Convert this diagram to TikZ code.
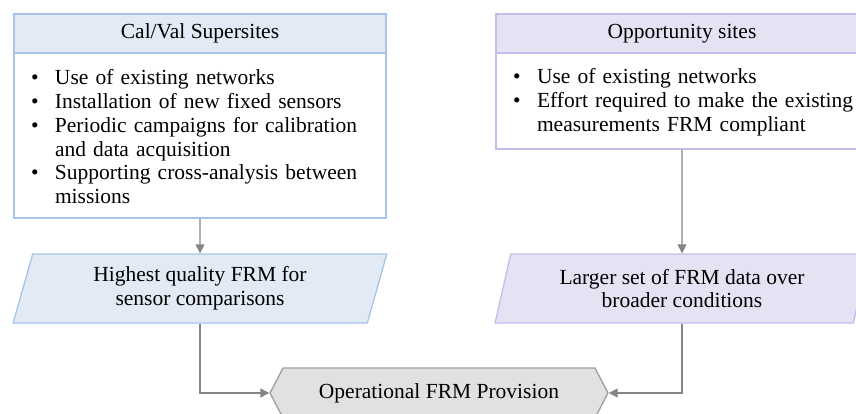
\documentclass[tikz,border=0pt]{standalone}
\usepackage{fontspec}
\setmainfont{Liberation Serif}
\usetikzlibrary{shapes.geometric,shapes.symbols,arrows.meta}
\definecolor{blueline}{HTML}{A8C4EA}
\definecolor{bluefill}{HTML}{E2EAF5}
\definecolor{lilacline}{HTML}{C4BDEA}
\definecolor{lilacfill}{HTML}{E5E3F3}
\definecolor{hexfill}{HTML}{E1E1E1}
\definecolor{hexline}{HTML}{9E9E9E}
\definecolor{arrowgray}{HTML}{858585}
\newcommand{\bitem}[1]{\par\hangindent=24pt\hangafter=1\noindent\makebox[24pt][l]{\textbullet}#1\par}
\newcommand{\liftup}{\par\kern6pt\hrule height0pt width0pt}

\begin{document}
\begin{tikzpicture}[x=1pt,y=-1pt,
    font=\fontsize{21.5}{23.7}\selectfont,
    headbox/.style={draw=#1line,fill=#1fill,line width=1.3pt,
      minimum width=372pt,minimum height=39pt,inner sep=0pt},
    bodybox/.style={draw=#1line,fill=white,line width=1.3pt,
      minimum width=372pt,text width=338pt,align=left,inner sep=0pt},
    outbox/.style={trapezium,trapezium stretches=true,
      trapezium left angle=74,trapezium right angle=106,
      draw=#1line,fill=#1fill,line width=1.3pt,
      minimum width=374pt,minimum height=69pt,inner sep=0pt,align=center},
    flow/.style={draw=arrowgray,line width=1.3pt,
      -{Triangle[length=9pt,width=9pt]}}]
  \useasboundingbox (0,0) rectangle (856,414);
  \clip (0,0) rectangle (856,414);

  \node[bodybox=blue,minimum height=165pt] (calbody) at (200,135.5)
    {\bitem{Use of existing networks}
     \bitem{Installation of new fixed sensors}
     \bitem{Periodic campaigns for calibration\newline and data acquisition}
     \bitem{Supporting cross-analysis between\newline missions}
     \liftup};
  \node[headbox=blue] (calhead) at (200,33.5) {Cal/Val Supersites};

  \node[bodybox=lilac,minimum height=96pt] (oppbody) at (682,101)
    {\bitem{Use of existing networks}
     \bitem{\mbox{Effort required to make the existing}\newline measurements FRM compliant}
     \liftup};
  \node[headbox=lilac] (opphead) at (682,33.5) {Opportunity sites};

  \node[outbox=blue] (calout) at (200,288.5)
    {Highest quality FRM for\\sensor comparisons};
  \node[outbox=lilac] (oppout) at (682,288.5)
    {Larger set of FRM data over\\broader conditions};

  \node[signal,signal to=west and east,signal pointer angle=125,
    draw=hexline,fill=hexfill,line width=1.3pt,
    minimum width=338pt,minimum height=50pt,inner sep=0pt] (frm) at (439,393)
    {Operational FRM Provision};

  \draw[flow]
    (calbody.south)
    --
    (calout.north);
  \draw[flow]
    (oppbody.south)
    --
    (oppout.north);
  \draw[flow]
    (calout.south)
    |-
    (frm.west);
  \draw[flow]
    (oppout.south)
    |-
    (frm.east);
\end{tikzpicture}
\end{document}
